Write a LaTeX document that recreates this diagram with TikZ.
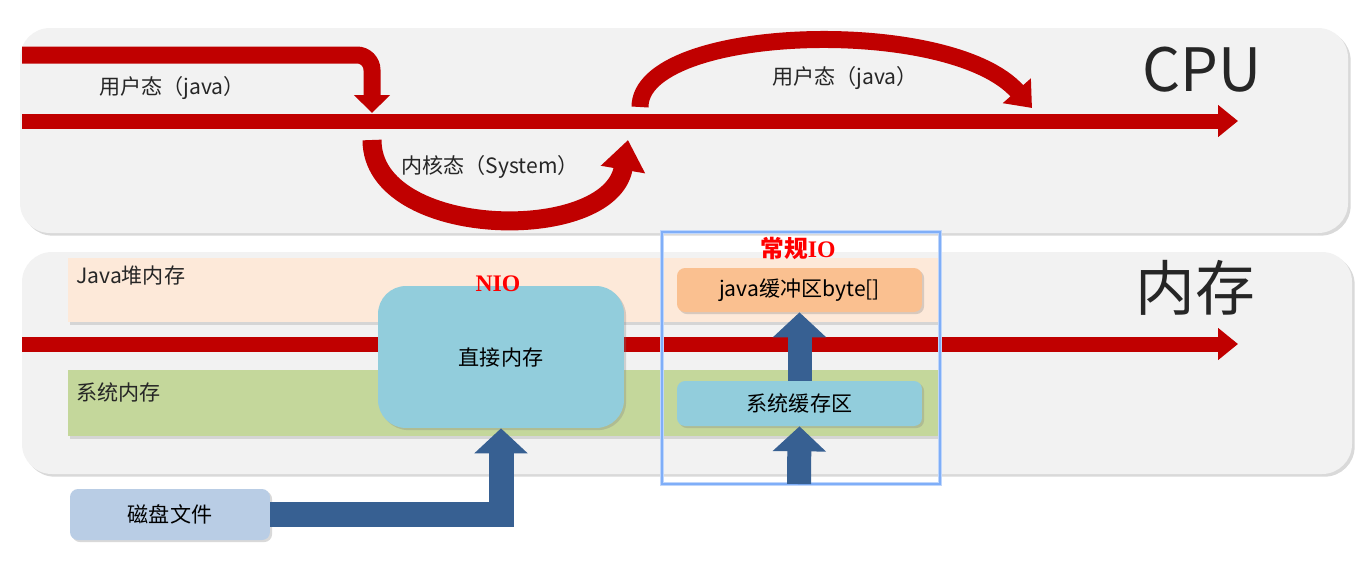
\documentclass[tikz,border=0pt]{standalone}
\usepackage{fontspec}
\setmainfont{Noto Sans CJK SC}
\newfontfamily\ioserif{Liberation Serif}
\usetikzlibrary{arrows.meta,shadows}
\definecolor{panelgray}{HTML}{F2F2F2}
\definecolor{flowred}{HTML}{C00000}
\definecolor{heapfill}{HTML}{FDE9D9}
\definecolor{sysfill}{HTML}{C4D79B}
\definecolor{cachefill}{HTML}{92CDDC}
\definecolor{buffill}{HTML}{FAC090}
\definecolor{diskfill}{HTML}{B9CDE5}
\definecolor{flowblue}{HTML}{376092}
\definecolor{ioframe}{HTML}{7FAEF8}
\definecolor{labeltext}{HTML}{262626}

\begin{document}
\begin{tikzpicture}[x=0.02cm,y=-0.02cm,
  panel/.style={fill=panelgray,rounded corners=0.6cm,
    drop shadow={shadow xshift=1.5pt,shadow yshift=-1.5pt,opacity=0.3}},
  band/.style={drop shadow={shadow xshift=1pt,shadow yshift=-1.5pt,opacity=0.25}},
  membox/.style={rounded corners=0.16cm,minimum width=4.9cm,minimum height=0.88cm,
    inner sep=0pt,font=\fontsize{12}{14}\selectfont,text=black,
    drop shadow={shadow xshift=1.2pt,shadow yshift=-1.2pt,opacity=0.3}},
  redflow/.style={draw=flowred,line width=0.3cm,-{Triangle[length=0.4cm,width=0.62cm]}},
  blueflow/.style={draw=flowblue,line width=0.48cm,line join=miter,
    -{Triangle[length=0.5cm,width=1.04cm]}},
  label/.style={font=\fontsize{12}{14}\selectfont,text=labeltext,inner sep=0pt},
  biglabel/.style={font=\fontsize{34}{40}\selectfont,text=labeltext,inner sep=0pt},
  iolabel/.style={font=\ioserif\bfseries\fontsize{13.5}{16}\selectfont,text=red,inner sep=0pt}]
\useasboundingbox (0,0) rectangle (1372,582);

% panels
\path[panel] (20,28) rectangle (1348,233);
\path[panel] (22,252) rectangle (1352,474);

% memory bands
\fill[band,heapfill] (68,258) rectangle (940,322);
\fill[band,sysfill] (68,370) rectangle (940,436);
\node[label,anchor=west] (heaplbl) at (76,276) {Java堆内存};
\node[label,anchor=west] (syslbl) at (76,392) {系统内存};

% cpu time line
\coordinate (cpustart) at (22,121);
\coordinate (cpuend) at (1238,121);
\draw[redflow] (cpustart) -- (cpuend);
\coordinate (cpuin) at (22,55);
\coordinate (cpuhit) at (372,113);
\draw[redflow,line width=0.34cm,rounded corners=0.3cm,
  -{Triangle[length=0.36cm,width=0.7cm]}] (cpuin) -| (cpuhit);
\coordinate (kstart) at (372,140);
\coordinate (kend) at (628,140);
\draw[redflow,line width=0.38cm,-{Triangle[length=0.6cm,width=0.86cm]}]
  (kstart) .. controls (372,240) and (610,245) .. (kend);
\coordinate (ustart) at (640,107);
\coordinate (uend) at (1032,108);
\draw[redflow,line width=0.34cm,-{Triangle[length=0.46cm,width=0.72cm]}]
  (ustart) .. controls (640,25) and (950,15) .. (uend);
\node[label] (userlbl) at (172,88) {用户态（java）};
\node[label] (kernlbl) at (490,167) {内核态（System）};
\node[label] (userlbl2) at (845,78) {用户态（java）};
\node[biglabel] (cpulbl) at (1202,70) {CPU};

% memory time line
\coordinate (memstart) at (22,344);
\coordinate (memend) at (1238,344);
\draw[redflow] (memstart) -- (memend);
\node[biglabel] (memlbl) at (1195,288) {内存};

% NIO
\node[membox,fill=cachefill,rounded corners=0.56cm,minimum width=4.92cm,
  minimum height=2.84cm] (direct) at (501,357) {直接内存};
\node[iolabel] (niolbl) at (498,284) {NIO};

% regular IO
\draw[ioframe!50,line width=2.5pt] (662,232) rectangle (940,484);
\draw[ioframe,line width=0.8pt] (662,232) rectangle (940,484);
\node[iolabel] (iolbl) at (798,248) {{\rmfamily 常规}IO};
\node[membox,fill=buffill] (javabuf) at (799.5,290) {java缓冲区byte[]};
\node[membox,fill=cachefill,minimum height=0.9cm] (syscache) at (799.5,403.5) {系统缓存区};
\coordinate (iobottom) at (799,484);
\draw[blueflow] (iobottom) -- (syscache.south);
\draw[blueflow] (syscache.north) -- (javabuf.south);

% disk
\node[membox,fill=diskfill,minimum width=4cm,minimum height=1.02cm] (disk)
  at (170,514.5) {磁盘文件};
\draw[blueflow,line width=0.5cm] (disk.east) -| (direct.south);
\end{tikzpicture}
\end{document}
